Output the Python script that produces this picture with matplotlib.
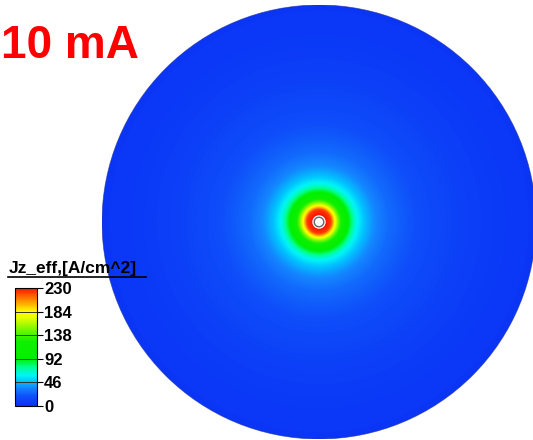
import numpy as np
import matplotlib.pyplot as plt
from matplotlib.colors import LinearSegmentedColormap
from matplotlib.patches import Circle

# radial profile of the effective current density (r as fraction of disk radius)
r_prof = [0.0, 0.032, 0.055, 0.065, 0.074, 0.088, 0.106, 0.129, 0.152, 0.171,
          0.207, 0.253, 0.323, 0.461, 0.691, 1.0]
j_prof = [235, 230, 222, 200, 180, 150, 120, 97, 78, 63,
          48, 37, 27, 17, 9, 4]

levels = [0, 46, 92, 138, 184, 230]
title = "10 mA"
cb_label = "Jz_eff,[A/cm^2]"

cmap = LinearSegmentedColormap.from_list("tec", [
    (0.00, "#0a2ff5"),
    (0.08, "#0f50fa"),
    (0.15, "#1482ff"),
    (0.21, "#00c8ff"),
    (0.26, "#00f5f5"),
    (0.33, "#00ff90"),
    (0.40, "#00f000"),
    (0.55, "#10f000"),
    (0.63, "#64f500"),
    (0.75, "#e6ff00"),
    (0.80, "#ffff00"),
    (0.88, "#ffa000"),
    (1.00, "#ff1400"),
])

fig = plt.figure(figsize=(5.33, 4.40), dpi=100)
ax = fig.add_axes([99 / 533, 1 / 440, 440 / 533, 434 / 440])
ax.set_xlim(-1, 1)
ax.set_ylim(-1, 1)
ax.axis("off")

n = 900
x = np.linspace(-1, 1, n)
X, Y = np.meshgrid(x, x)
R = np.hypot(X, Y)
J = np.interp(R, r_prof, j_prof)
im = ax.imshow(J, extent=[-1, 1, -1, 1], origin="lower", cmap=cmap,
               vmin=levels[0], vmax=levels[-1], interpolation="bilinear")
disk = Circle((0, 0), 1.0, transform=ax.transData)
im.set_clip_path(disk)
ax.add_patch(Circle((0, 0), 1.0, fill=False, ec="#1a2a9a", lw=0.6, alpha=0.6))

# hole at the centre
ax.add_patch(Circle((0, 0), 0.031, fc="white", ec="none", zorder=3))
ax.add_patch(Circle((0, 0), 0.022, fc="white", ec="#666666", lw=1.0, zorder=4))

fig.text(1 / 533, 1 - 46 / 440, title, color="red", fontsize=33,
         fontweight="bold", family="Liberation Sans", va="center", ha="left")

# colour legend
cax = fig.add_axes([15 / 533, 1 - 406 / 440, 22 / 533, 118 / 440])
cb = fig.colorbar(im, cax=cax, ticks=levels)
cb.outline.set_linewidth(0.8)
for lv in levels[1:-1]:
    cax.axhline(lv, color="#333333", lw=0.7)
cax.tick_params(length=4, width=0.8, pad=1, direction="out")
for t in cax.get_yticklabels():
    t.set_fontsize(12)
    t.set_fontweight("bold")
    t.set_family("Liberation Sans")

fig.text(9 / 533, 1 - 269 / 440, cb_label, fontsize=12.5, fontweight="bold",
         family="Liberation Sans", va="center", ha="left")
fig.add_artist(plt.Line2D([8 / 533, 146 / 533], [1 - 277 / 440, 1 - 277 / 440],
                          color="black", lw=1.2))

fig.savefig("out.png", dpi=100)
